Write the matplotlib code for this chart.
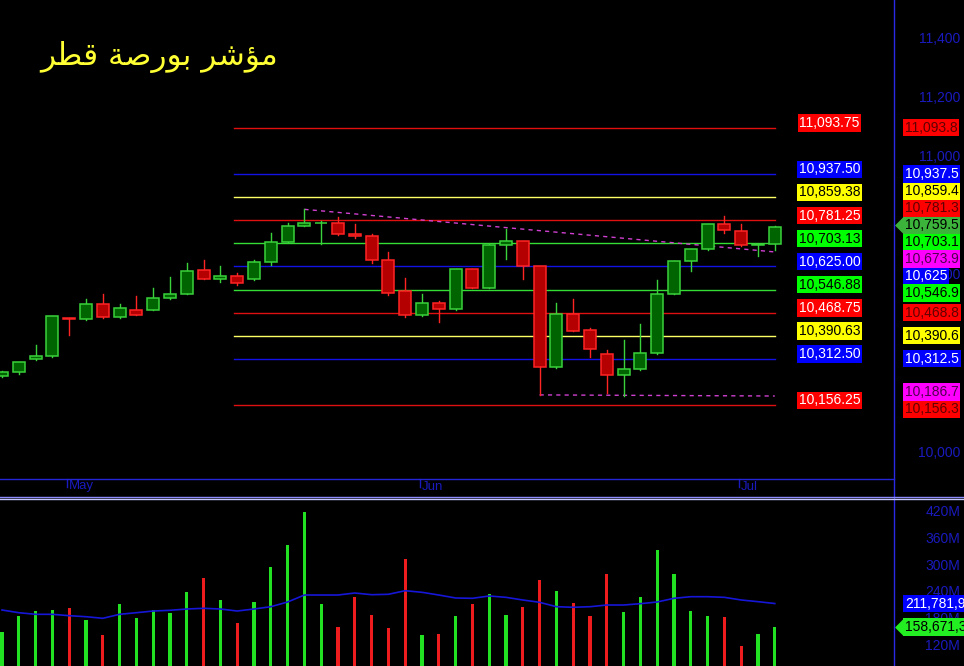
import matplotlib
matplotlib.use("Agg")
import matplotlib.pyplot as plt
import matplotlib.transforms as mtransforms
from matplotlib.patches import Rectangle
from matplotlib.lines import Line2D

# Qatar exchange index, daily candles (May - early July)
opens = [10256, 10267, 10311, 10321, 10451, 10446, 10497, 10453, 10477, 10477,
         10517, 10531, 10612, 10584, 10592, 10582, 10639, 10709, 10761, 10771,
         10772, 10736, 10728, 10647, 10541, 10459, 10500, 10480, 10615, 10553,
         10697, 10711, 10626, 10284, 10464, 10409, 10328, 10257, 10277, 10331,
         10531, 10643, 10683, 10768, 10744, 10697, 10700]
highs = [10270, 10302, 10359, 10457, 10452, 10515, 10531, 10497, 10525, 10552,
         10589, 10638, 10647, 10628, 10603, 10645, 10737, 10773, 10818, 10779,
         10791, 10768, 10736, 10675, 10585, 10532, 10509, 10617, 10617, 10700,
         10752, 10712, 10627, 10501, 10516, 10418, 10343, 10376, 10430, 10579,
         10644, 10684, 10769, 10796, 10769, 10701, 10760]
lows = [10252, 10260, 10310, 10320, 10393, 10445, 10452, 10452, 10461, 10476,
        10516, 10530, 10583, 10571, 10562, 10580, 10630, 10708, 10760, 10701,
        10732, 10722, 10638, 10529, 10455, 10457, 10437, 10479, 10552, 10552,
        10649, 10584, 10190, 10283, 10407, 10318, 10196, 10187, 10276, 10330,
        10530, 10609, 10682, 10737, 10695, 10661, 10681]
closes = [10267, 10301, 10321, 10456, 10446, 10497, 10453, 10483, 10462, 10517,
          10531, 10609, 10584, 10592, 10570, 10639, 10707, 10761, 10771, 10772,
          10733, 10729, 10645, 10536, 10459, 10500, 10480, 10615, 10553, 10697,
          10710, 10626, 10284, 10463, 10408, 10344, 10257, 10277, 10331, 10531,
          10643, 10683, 10768, 10747, 10697, 10700, 10759.5]

# volume in millions, bar colour flag and its moving average
volumes = [148.4, 184.4, 194.9, 197.2, 202.4, 174.7, 140.3, 210.7, 179.9, 197.2,
           190.4, 237.7, 269.2, 220.4, 167.9, 215.2, 293.9, 344.1, 417.7, 210.7,
           159.6, 226.4, 186.6, 157.4, 312.6, 141.6, 143.9, 184.4, 211.4, 233.9,
           186.6, 204.6, 264.0, 240.6, 212.9, 183.0, 278.9, 193.4, 227.1, 331.5,
           278.9, 195.6, 184.4, 180.8, 115.5, 143.9, 158.671352]
vol_up = [1, 1, 1, 1, 0, 1, 0, 1, 1, 1,
          1, 1, 0, 1, 0, 1, 1, 1, 1, 1,
          0, 0, 0, 0, 0, 1, 0, 1, 0, 1,
          1, 0, 0, 1, 0, 0, 0, 1, 1, 1,
          1, 1, 1, 0, 0, 1, 1]
vol_ma = [197.2, 191.1, 187.5, 187.5, 184.4, 182.1, 178.5, 187.5, 191.1, 194.9,
          196.5, 199.4, 201.0, 199.4, 194.9, 199.4, 204.6, 215.2, 230.9, 230.9,
          230.9, 235.4, 231.6, 232.5, 240.6, 237.0, 230.9, 224.2, 223.5, 228.7,
          225.7, 219.7, 214.5, 204.6, 203.3, 204.6, 208.4, 208.4, 211.4, 215.2,
          223.5, 227.1, 227.1, 225.7, 219.7, 215.9, 211.781904]

# month ticks (candle index of first session)
month_idx = [4, 25, 44]
month_names = ["May", "Jun", "Jul"]

# Murrey math levels
levels = [11093.75, 10937.5, 10859.375, 10781.25, 10703.125, 10625.0,
          10546.875, 10468.75, 10390.625, 10312.5, 10156.25]
level_kind = ["red", "blue", "yellow", "red", "green", "blue",
              "green", "red", "yellow", "blue", "red"]

# dashed trend lines (start index, start value, end index, end value)
upper_trend = [18, 10818, 46, 10673.9]
lower_trend = [32, 10190.4, 46, 10186.7]

price_ticks = [10000, 10200, 10400, 10600, 10800, 11000, 11200, 11400]
vol_ticks = [120, 180, 240, 300, 360, 420]

title = "ﺮﻄﻗ ﺔﺻﺭﻮﺑ ﺮﺷﺆﻣ"   # مؤشر بورصة قطر (shaped, visual order)

W, H, DPI = 964, 666, 100
AX_RIGHT = 893.5
NUM_FONT = "Liberation Sans"
AXIS_BLUE = "#1a1abe"


def px(n):
    return n * 72.0 / DPI


line_col = {"red": "#e01010", "blue": "#1212e6", "yellow": "#ffff66", "green": "#33dd33"}
box_col = {"red": "#ff0000", "blue": "#0000ff", "yellow": "#ffff00", "green": "#00ff00",
           "magenta": "#ff00ff"}
left_txt = {"red": "white", "blue": "white", "yellow": "black", "green": "black"}
right_txt = {"red": "#600000", "blue": "white", "yellow": "black", "green": "black",
             "magenta": "#500050"}

fig = plt.figure(figsize=(W / DPI, H / DPI), dpi=DPI, facecolor="black")
ax = fig.add_axes([0, 1 - 479 / H, AX_RIGHT / W, 479 / H])
vax = fig.add_axes([0, 0, AX_RIGHT / W, 167 / H])

x0 = -2 / 16.8
x1 = (AX_RIGHT - 2) / 16.8
for a in (ax, vax):
    a.set_facecolor("black")
    a.set_xlim(x0, x1)
    for s in a.spines.values():
        s.set_visible(False)
    a.set_xticks([])
    a.yaxis.tick_right()
    a.tick_params(axis="y", length=0, pad=px(W - 4 - AX_RIGHT), labelsize=10,
                  labelcolor=AXIS_BLUE)

ax.set_ylim(9906, 11526)
vax.set_ylim(71.2, 446.9)

ax.set_yticks(price_ticks)
ax.set_yticklabels([f"{t:,}" for t in price_ticks], family=NUM_FONT, ha="right")
vax.set_yticks(vol_ticks)
vax.set_yticklabels([f"{t}M" for t in vol_ticks], family=NUM_FONT, ha="right")

# candles
n = len(closes)
body_w = 0.72
for i in range(n):
    up = closes[i] >= opens[i]
    edge = "#3ad23a" if up else "#ff2424"
    face = "#006400" if up else "#b40000"
    ax.plot([i, i], [lows[i], highs[i]], color=edge, lw=1, zorder=3)
    lo = min(opens[i], closes[i])
    hi = max(opens[i], closes[i])
    ax.add_patch(Rectangle((i - body_w / 2, lo), body_w, hi - lo,
                           facecolor=face, edgecolor=edge, lw=1.1, zorder=4))

# level lines and their labels inside the plot
lvl_start = 13.8
for v, k in zip(levels, level_kind):
    ax.plot([lvl_start, n - 1], [v, v], color=line_col[k], lw=1, zorder=2)
    ax.annotate(f"{v + 1e-9:,.2f}", xy=(49.25, v), xytext=(0, px(4.7)),
                textcoords="offset points", ha="center", va="center",
                fontsize=10, family=NUM_FONT, color=left_txt[k],
                bbox=dict(boxstyle="square,pad=0.12", fc=box_col[k], ec="none"),
                zorder=6)

# trend lines
for t in (upper_trend, lower_trend):
    ax.plot([t[0], t[2]], [t[1], t[3]], color="#d040d0", lw=1,
            dashes=(3, 3), zorder=2.5)


def stack(values, gap):
    # spread labels so they do not overlap, keeping groups centred on their values
    order = sorted(range(len(values)), key=lambda k: -values[k])
    clusters = [[k] for k in order]

    def place(cl):
        m = sum(values[k] for k in cl) / len(cl)
        c = len(cl)
        return [m + ((c - 1) / 2 - j) * gap for j in range(c)]

    merged = True
    while merged:
        merged = False
        for c in range(len(clusters) - 1):
            a = place(clusters[c])
            b = place(clusters[c + 1])
            if a[-1] - b[0] < gap:
                clusters[c] = clusters[c] + clusters[c + 1]
                del clusters[c + 1]
                merged = True
                break
    pos = {}
    for cl in clusters:
        for k, p in zip(cl, place(cl)):
            pos[k] = p
    return [pos[k] for k in range(len(values))]


def fmt_right(v):
    s = f"{v + 1e-9:,.1f}"
    return s[:-2] if s.endswith(".0") else s


def right_label(a, y, text, fc, tc, arrow=False):
    a.annotate(text, xy=(1, y), xycoords=("axes fraction", "data"),
               xytext=(px(903 + 2 - AX_RIGHT), 0), textcoords="offset points",
               ha="left", va="center", fontsize=10, family=NUM_FONT, color=tc,
               bbox=dict(boxstyle="square,pad=0.12", fc=fc, ec="none"),
               annotation_clip=False, zorder=7)
    if arrow:
        tr = mtransforms.blended_transform_factory(a.transAxes, a.transData)
        a.plot([(903 - 0.5) / AX_RIGHT], [y], transform=tr,
               marker=[(-1, 0), (0, 1), (0, -1)], markersize=px(17),
               color=fc, mew=0, clip_on=False, zorder=7)


# right side price labels
r_vals = list(levels) + [upper_trend[3], lower_trend[3], closes[-1]]
r_kind = list(level_kind) + ["magenta", "magenta", "green"]
r_pos = stack(r_vals, 17.0 / 0.2958)
for j, (v, k, p) in enumerate(zip(r_vals, r_kind, r_pos)):
    if j == len(r_vals) - 1:
        right_label(ax, p, fmt_right(v), "#3cb43c", "black", arrow=True)
    else:
        right_label(ax, p, fmt_right(v), box_col[k], right_txt[k])

# month ticks under the price panel
tr_x = mtransforms.blended_transform_factory(ax.transData, ax.transAxes)
for m, name in zip(month_idx, month_names):
    xm = m - 0.12
    ax.add_line(Line2D([xm, xm], [0, -8 / 479], transform=tr_x, color=AXIS_BLUE,
                       lw=1, clip_on=False))
    ax.annotate(name, xy=(xm, 0), xycoords=tr_x, xytext=(px(2), -px(1.5)),
                textcoords="offset points", ha="left", va="top", fontsize=9.5,
                family=NUM_FONT, color=AXIS_BLUE, annotation_clip=False)

# volume panel
xs = list(range(n))
vax.bar(xs, volumes, width=0.2, bottom=0,
        color=["#22e022" if u else "#ee1c1c" for u in vol_up], zorder=3)
vax.plot(xs, vol_ma, color="#1616d8", lw=1.2, zorder=4)
right_label(vax, vol_ma[-1], f"{vol_ma[-1] * 1e6:,.0f}", "#0000ff", "white")
right_label(vax, volumes[-1], f"{volumes[-1] * 1e6:,.0f}", "#22ee22", "black", arrow=True)

# panel separators
fig.add_artist(Line2D([AX_RIGHT / W] * 2, [0, 1], color="#2a2ae6", lw=1))
fig.add_artist(Line2D([0, AX_RIGHT / W], [1 - 479 / H] * 2, color="#2424d8", lw=1))
fig.add_artist(Line2D([0, 1], [1 - 496.5 / H] * 2, color="#8c8cff", lw=1))
fig.add_artist(Line2D([0, 1], [1 - 499 / H] * 2, color="#c4c4ff", lw=1))

# title
fig.text(40 / W, 1 - 57 / H, title, fontsize=22.5, color="#ffff33",
         ha="left", va="center", family="DejaVu Sans")

fig.savefig("out.png", dpi=DPI, facecolor="black")
